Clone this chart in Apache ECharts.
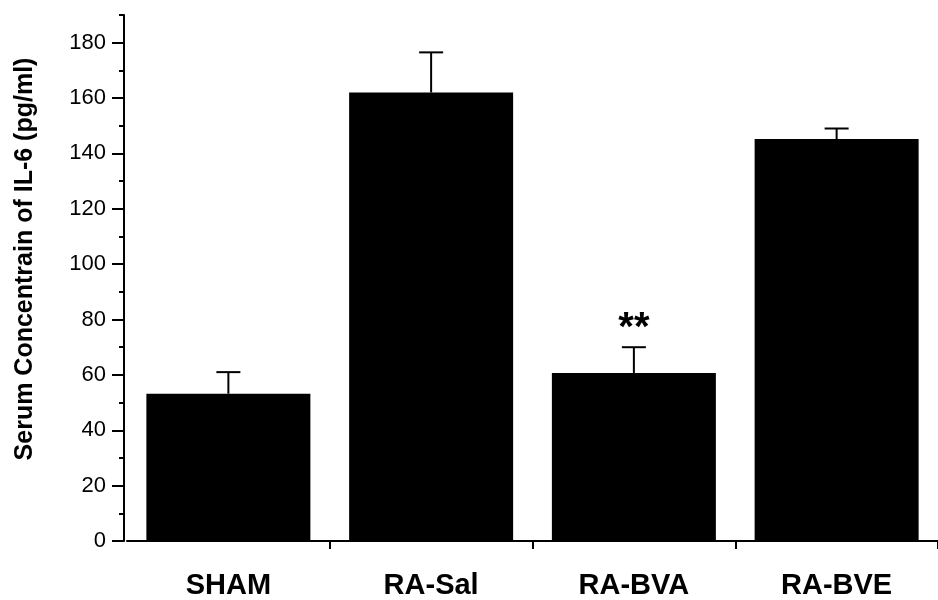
<!DOCTYPE html>
<html><head><meta charset="utf-8">
<script src="https://cdn.jsdelivr.net/npm/echarts@6/dist/echarts.min.js"></script>
<style>html,body{margin:0;padding:0;background:#fff}#c{width:938px;height:600px}</style>
</head><body><div id="c"></div>
<script>
const categories = ['SHAM', 'RA-Sal', 'RA-BVA', 'RA-BVE'];
const means = [53.2, 162, 60.7, 145.2];
const errUpper = [61, 176.5, 70, 149];
const significance = ['', '', '**', ''];
const yTickLabels = [0, 20, 40, 60, 80, 100, 120, 140, 160, 180];
const yTitle = 'Serum Concentrain of IL-6 (pg/ml)';

const chart = echarts.init(document.getElementById('c'));
const font = '"Liberation Sans", Arial, sans-serif';
chart.setOption({
  animation: false,
  backgroundColor: '#fff',
  grid: { left: 127, width: 817, top: 15, height: 530 },
  xAxis: {
    type: 'category', data: categories,
    axisLine: { lineStyle: { color: '#000', width: 2 } },
    axisTick: { show: true, length: 8, lineStyle: { color: '#000', width: 2 }, interval: function (idx) { return idx !== 0; }, alignWithLabel: false },
    axisLabel: { color: '#000', fontFamily: font, fontWeight: 'bold', fontSize: 29, margin: 30 },
    splitLine: { show: false }
  },
  yAxis: [{
    type: 'value', min: 0, max: 190, interval: 10, offset: 3,
    axisLine: { show: true, lineStyle: { color: '#000', width: 2 } },
    axisTick: { show: true, length: 12, customValues: yTickLabels, lineStyle: { color: '#000', width: 2 } },
    axisLabel: { color: '#000', fontFamily: font, fontSize: 22, margin: 18, customValues: yTickLabels },
    splitLine: { show: false }
  }, {
    type: 'value', min: 0, max: 190, interval: 10, offset: 3, position: 'left',
    axisLine: { show: false },
    axisTick: { show: true, length: 5, lineStyle: { color: '#000', width: 2 } },
    axisLabel: { show: false },
    splitLine: { show: false }
  }],
  graphic: [{
    type: 'text', x: 25, y: 259, rotation: Math.PI / 2,
    style: { text: yTitle, fill: '#000', font: 'bold 25px ' + font, textAlign: 'center', textVerticalAlign: 'middle' }
  }],
  series: [{
    type: 'bar', data: means, barWidth: 164, yAxisIndex: 0,
    itemStyle: { color: '#000' }
  }, {
    type: 'custom', yAxisIndex: 0,
    data: categories.map((c, i) => [i, means[i], errUpper[i]]),
    renderItem: function (params, api) {
      const i = api.value(0);
      const p0 = api.coord([i, api.value(1)]);
      const p1 = api.coord([i, api.value(2)]);
      const half = 12;
      const children = [
        { type: 'line', shape: { x1: p0[0], y1: p0[1], x2: p1[0], y2: p1[1] }, style: { stroke: '#000', lineWidth: 2 } },
        { type: 'line', shape: { x1: p1[0] - half, y1: p1[1], x2: p1[0] + half, y2: p1[1] }, style: { stroke: '#000', lineWidth: 2 } }
      ];
      if (significance[i]) {
        children.push({ type: 'text', x: p1[0], y: p1[1] + 2, style: { text: significance[i], fill: '#000', font: 'bold 40px ' + font, textAlign: 'center', textVerticalAlign: 'bottom' } });
      }
      return { type: 'group', children: children };
    },
    z: 5
  }]
});
</script></body></html>
